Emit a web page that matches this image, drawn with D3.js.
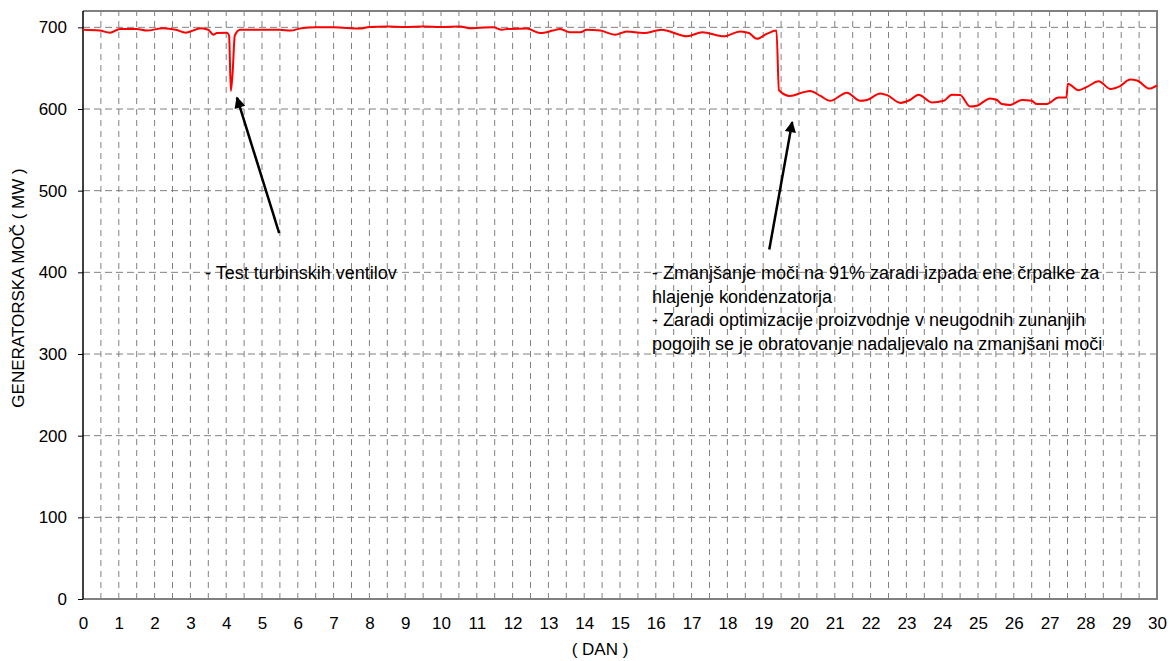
<!DOCTYPE html>
<html lang="sl">
<head>
<meta charset="UTF-8">
<title>Generatorska moč</title>
<script src="https://d3js.org/d3.v7.min.js"></script>
<style>
  body { margin: 0; padding: 0; background: #fff; }
  svg { display: block; background: #fff; font-family: Arial, "Liberation Sans", sans-serif; }
  .grid line { stroke: #808080; stroke-width: 1; }
  .axis text { font-size: 17px; fill: #000; }
  .note { font-size: 18px; fill: #000; }
</style>
</head>
<body>
<svg width="1173" height="661"></svg>
<script>
// podatki (dan, MW) odčitani s slike
const dan = [0, 0.47, 0.75, 1.03, 1.5, 1.78, 2.24, 2.6, 2.87, 3.3, 3.5, 3.64, 3.74, 4.02, 4.08, 4.13, 4.18, 4.24, 4.39,
  5.0, 5.5, 5.8, 6.1, 6.5, 7.0, 7.74, 8.0, 8.5, 9.0, 9.5, 10.0, 10.53, 10.8, 11.1, 11.46, 11.7, 11.84, 12.4, 12.77,
  13.13, 13.33, 13.6, 13.89, 14.07, 14.45, 14.86, 15.19, 15.65, 16.17, 16.3, 16.87, 17.3, 17.9, 18.36, 18.6, 18.82,
  19.1, 19.37, 19.44, 19.75, 20.12, 20.31, 20.6, 20.87, 21.34, 21.71, 21.9, 22.27, 22.46, 22.83, 23.1, 23.34, 23.71,
  24.04, 24.27, 24.5, 24.78, 24.97, 25.34, 25.53, 25.67, 25.9, 26.23, 26.5, 26.64, 26.92, 27.25, 27.47, 27.51, 27.81,
  28.04, 28.37, 28.7, 28.97, 29.25, 29.44, 29.79, 30.0];
const moc = [697, 696, 693.5, 698, 698, 696, 699, 697, 693.5, 699, 697, 691, 693, 693.5, 690, 622, 645, 690, 697,
  697, 697, 696, 699, 700, 700, 698.5, 700.5, 701, 700.5, 701, 700.5, 701, 699, 699.5, 700, 697, 698, 698.5, 693,
  696, 698, 694, 694, 697, 696, 691, 695, 693, 697, 696, 689, 694, 689, 695, 693, 686,
  692, 696, 623, 616, 620.5, 622, 616, 610, 620, 610, 611, 619, 617, 607.5, 611, 617.5, 608,
  610, 617.5, 617, 603, 604, 613, 611, 606, 605, 611, 610, 606, 606, 614, 614, 631, 623,
  627, 634, 624.5, 628, 636, 635, 625, 629];

const xTicks = d3.range(0, 31, 1);
const yTicks = d3.range(0, 701, 100);

const opomba1 = ["- Test turbinskih ventilov"];
const opomba2 = [
  "- Zmanjšanje moči na 91% zaradi izpada ene črpalke za",
  "hlajenje kondenzatorja",
  "- Zaradi optimizacije proizvodnje v neugodnih zunanjih",
  "pogojih se je obratovanje nadaljevalo na zmanjšani moči"
];

const svg = d3.select("svg"),
  width = +svg.attr("width"),
  height = +svg.attr("height");
const margin = { top: 11, right: 16, bottom: 62, left: 83 };

const x = d3.scaleLinear().domain([0, 30]).range([margin.left, width - margin.right]);
const y = d3.scaleLinear().domain([0, 720]).range([height - margin.bottom, margin.top]);

// mreža
const grid = svg.append("g").attr("class", "grid");
grid.selectAll("line.v").data(d3.range(0.5, 30, 0.5)).enter().append("line")
  .attr("class", "v")
  .attr("x1", d => x(d)).attr("x2", d => x(d))
  .attr("y1", y(0)).attr("y2", y(720))
  .attr("stroke-dasharray", "6,5");
grid.selectAll("line.h").data(yTicks.filter(d => d > 0)).enter().append("line")
  .attr("class", "h")
  .attr("x1", x(0)).attr("x2", x(30))
  .attr("y1", d => y(d)).attr("y2", d => y(d))
  .attr("stroke-dasharray", "7,4");

// okvir
svg.append("path")
  .attr("d", `M${x(0)},${y(720)}H${x(30)}V${y(0)}H${x(0)}`)
  .attr("fill", "none").attr("stroke", "#808080").attr("stroke-width", 2);

// osi
const yAxis = svg.append("g").attr("class", "axis")
  .attr("transform", `translate(${x(0)},0)`)
  .call(d3.axisLeft(y).tickValues(yTicks).tickSize(5).tickSizeOuter(0).tickPadding(11));
yAxis.select(".domain").attr("stroke", "#000").attr("stroke-width", 1.5)
  .attr("d", `M0,${y(0)}V${y(720)}`);
yAxis.selectAll(".tick line").attr("stroke", "#000");

const xAxis = svg.append("g").attr("class", "axis")
  .attr("transform", `translate(0,${y(0)})`)
  .call(d3.axisBottom(x).tickValues(xTicks).tickFormat(d3.format("d")).tickSize(0).tickPadding(18));
xAxis.select(".domain").remove();

svg.append("text")
  .attr("x", 600).attr("y", 655)
  .attr("text-anchor", "middle").attr("font-size", 17)
  .text("( DAN )");

svg.append("text")
  .attr("transform", `translate(24,288) rotate(-90)`)
  .attr("text-anchor", "middle").attr("font-size", 17)
  .text("GENERATORSKA MOČ  ( MW )");

// krivulja
const line = d3.line()
  .x((d, i) => x(dan[i]))
  .y(d => y(d))
  .curve(d3.curveMonotoneX);
svg.append("path")
  .datum(moc)
  .attr("fill", "none")
  .attr("stroke", "#ff0000")
  .attr("stroke-width", 2)
  .attr("d", line);

// puščice
svg.append("defs").append("marker")
  .attr("id", "arrow")
  .attr("viewBox", "0 0 10 10")
  .attr("refX", 9).attr("refY", 5)
  .attr("markerWidth", 5).attr("markerHeight", 4.5)
  .attr("markerUnits", "strokeWidth")
  .attr("orient", "auto")
  .append("path").attr("d", "M0,0L10,5L0,10z").attr("fill", "#000");

const puscice = [
  { from: [5.48, 448], to: [4.3, 614] },
  { from: [19.17, 428], to: [19.81, 584] }
];
svg.selectAll("line.arrow").data(puscice).enter().append("line")
  .attr("class", "arrow")
  .attr("x1", d => x(d.from[0])).attr("y1", d => y(d.from[1]))
  .attr("x2", d => x(d.to[0])).attr("y2", d => y(d.to[1]))
  .attr("stroke", "#000").attr("stroke-width", 2.5)
  .attr("marker-end", "url(#arrow)");

// opombe
svg.append("text").attr("class", "note")
  .attr("x", 205).attr("y", 279)
  .text(opomba1[0]);

svg.append("g").selectAll("text").data(opomba2).enter().append("text")
  .attr("class", "note")
  .attr("x", 652)
  .attr("y", (d, i) => 279 + i * 23.7)
  .text(d => d);
</script>
</body>
</html>
